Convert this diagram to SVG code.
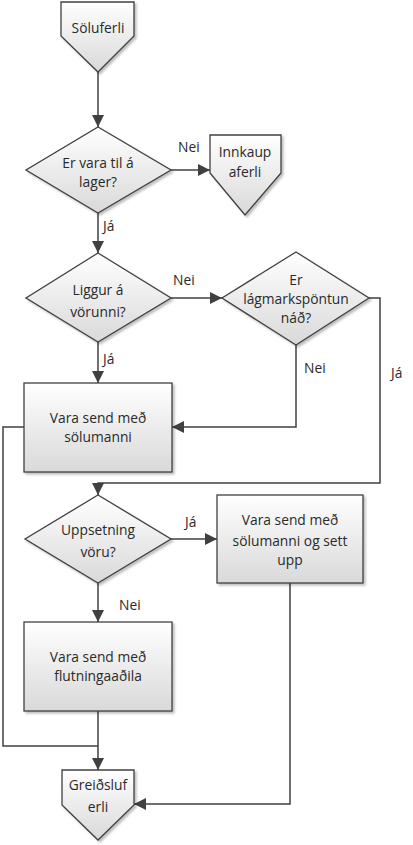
<svg xmlns="http://www.w3.org/2000/svg" width="413" height="845" viewBox="0 0 413 845">
<defs>
<linearGradient id="g" x1="0" y1="0" x2="0" y2="1">
<stop offset="0" stop-color="#ffffff"/>
<stop offset="1" stop-color="#d9d9d9"/>
</linearGradient>
<filter id="sh" x="-10%" y="-10%" width="130%" height="130%">
<feDropShadow dx="2" dy="2" stdDeviation="1" flood-color="#000" flood-opacity="0.25"/>
</filter>
<marker id="ah" viewBox="0 0 10 10" refX="10" refY="5" markerWidth="12" markerHeight="12" markerUnits="userSpaceOnUse" orient="auto">
<path d="M0,0 L10,5 L0,10 Z" fill="#404040"/>
</marker>
</defs>
<style>
.n{fill:url(#g);stroke:#404040;stroke-width:1.3;filter:url(#sh)}
.t{font-family:"Open Sans","Liberation Sans",sans-serif;font-size:13.8px;fill:#2a2a2a;text-anchor:middle}
.l{font-family:"Open Sans","Liberation Sans",sans-serif;font-size:13.8px;fill:#2a2a2a}
.c{fill:none;stroke:#404040;stroke-width:1.5}
</style>
<rect width="413" height="845" fill="#fff"/>
<g id="connectors">
<path class="c" d="M98,72 V127" marker-end="url(#ah)"/>
<path class="c" d="M171,170 H210" marker-end="url(#ah)"/>
<path class="c" d="M98,213 V253" marker-end="url(#ah)"/>
<path class="c" d="M171,298 H222" marker-end="url(#ah)"/>
<path class="c" d="M98,342 V383" marker-end="url(#ah)"/>
<path class="c" d="M296,345 V427 H172" marker-end="url(#ah)"/>
<path class="c" d="M369,298 H380 V483 H98 V495" marker-end="url(#ah)"/>
<path class="c" d="M171,539 H217" marker-end="url(#ah)"/>
<path class="c" d="M98,583 V622" marker-end="url(#ah)"/>
<path class="c" d="M290,583 V804 H134" marker-end="url(#ah)"/>
<path class="c" d="M24,427 H3 V746 H98"/>
<path class="c" d="M98,711 V770" marker-end="url(#ah)"/>
<text class="l" x="178" y="152">Nei</text>
<text class="l" x="103" y="231">Já</text>
<text class="l" x="173" y="285">Nei</text>
<text class="l" x="103" y="364">Já</text>
<text class="l" x="304" y="373">Nei</text>
<text class="l" x="391" y="378">Já</text>
<text class="l" x="185" y="527">Já</text>
<text class="l" x="119" y="610">Nei</text>
</g>
<g id="soluferli">
<path class="n" d="M61,2 H134 V36 L98,72 L61,36 Z"/>
<text class="t" x="98" y="33">Söluferli</text>
</g>
<g id="d1">
<path class="n" d="M98,127 L171,170 L98,213 L26,170 Z"/>
<text class="t" x="98" y="168">Er vara til á</text>
<text class="t" x="98" y="187">lager?</text>
</g>
<g id="innkaup">
<path class="n" d="M210,135 H281 V173 L245,215 L210,173 Z"/>
<text class="t" x="245" y="157">Innkaup</text>
<text class="t" x="245" y="177">aferli</text>
</g>
<g id="d2">
<path class="n" d="M98,253 L171,298 L98,342 L26,298 Z"/>
<text class="t" x="98" y="295">Liggur á</text>
<text class="t" x="98" y="317">vörunni?</text>
</g>
<g id="d3">
<path class="n" d="M296,252 L369,298 L296,345 L222,298 Z"/>
<text class="t" x="296" y="285">Er</text>
<text class="t" x="296" y="304">lágmarkspöntun</text>
<text class="t" x="296" y="323">náð?</text>
</g>
<g id="r1">
<rect class="n" x="24" y="383" width="148" height="89"/>
<text class="t" x="98" y="423">Vara send með</text>
<text class="t" x="98" y="442">sölumanni</text>
</g>
<g id="d4">
<path class="n" d="M98,495 L171,539 L98,583 L25,539 Z"/>
<text class="t" x="98" y="535">Uppsetning</text>
<text class="t" x="98" y="557">vöru?</text>
</g>
<g id="r2">
<rect class="n" x="217" y="495" width="146" height="88"/>
<text class="t" x="290" y="525">Vara send með</text>
<text class="t" x="290" y="546">sölumanni og sett</text>
<text class="t" x="290" y="565">upp</text>
</g>
<g id="r3">
<rect class="n" x="24" y="622" width="148" height="89"/>
<text class="t" x="98" y="662">Vara send með</text>
<text class="t" x="98" y="681">flutningaaðila</text>
</g>
<g id="greidsluferli">
<path class="n" d="M62,770 H134 V805 L98,840 L62,805 Z"/>
<text class="t" x="98" y="790">Greiðsluf</text>
<text class="t" x="98" y="812">erli</text>
</g>
</svg>
